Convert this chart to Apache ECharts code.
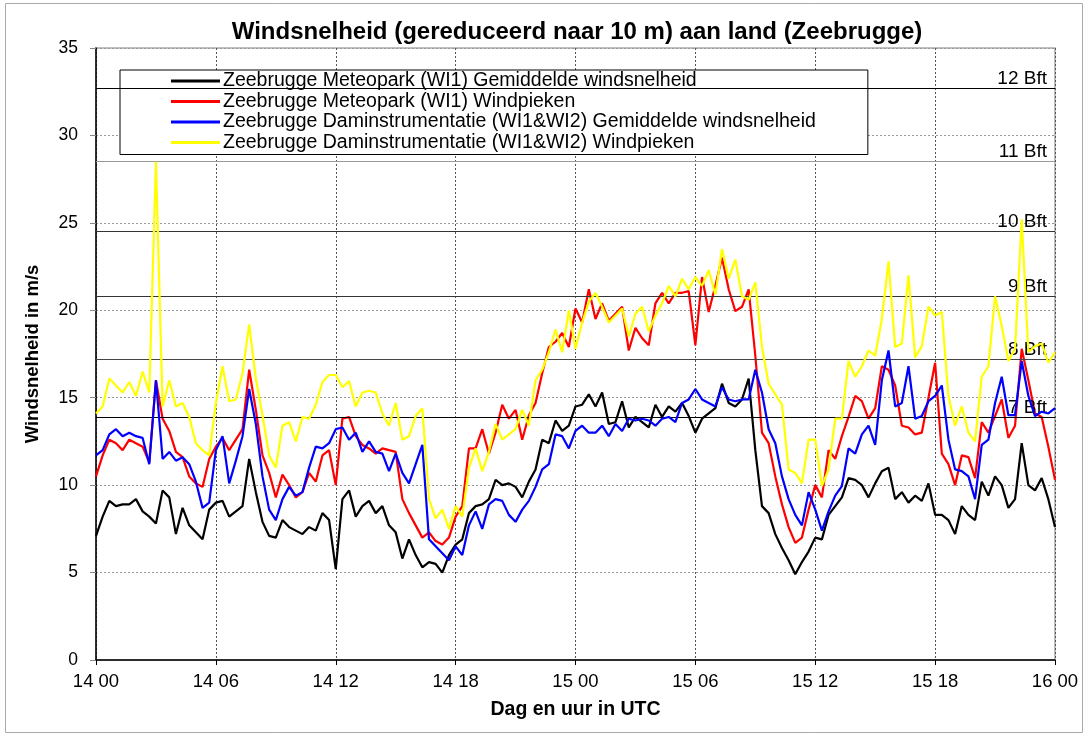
<!DOCTYPE html>
<html>
<head>
<meta charset="utf-8">
<script src="https://cdn.jsdelivr.net/npm/echarts@6/dist/echarts.min.js"></script>
<style>
  html, body { margin: 0; padding: 0; background: #fff; }
  #chart { width: 1086px; height: 736px; }
</style>
</head>
<body>
<div id="chart"></div>
<script>
// 20-minute samples, 14 00 -> 16 00 UTC
const tickLabels = ['14 00', '14 06', '14 12', '14 18', '15 00', '15 06', '15 12', '15 18', '16 00']

const meteoMean = [
  7.1, 8.2, 9.1, 8.8, 8.9, 8.9, 9.2, 8.5, 8.2, 7.8, 9.7, 9.3, 7.2, 8.7, 7.7, 7.3, 6.9, 8.6, 9.0, 9.1, 8.2, 8.5, 8.8, 11.5, 9.6, 7.9, 7.1, 7.0, 8.0, 7.6, 7.4, 7.2, 7.6, 7.4, 8.4, 8.0, 5.2,
  9.2, 9.7, 8.2, 8.8, 9.1, 8.4, 8.8, 7.7, 7.3, 5.8, 6.9, 6.0, 5.3, 5.6, 5.5, 5.0, 6.0, 6.6, 6.9, 8.4, 8.8, 8.9, 9.2, 10.3, 10.0, 10.1, 9.9, 9.3, 10.2, 10.9, 12.6, 12.4, 13.7, 13.1, 13.4, 14.5,
  14.6, 15.2, 14.5, 15.3, 13.5, 13.6, 14.8, 13.3, 13.9, 13.6, 13.3, 14.6, 13.9, 14.5, 14.2, 14.7, 13.95, 13.0, 13.8, 14.1, 14.4, 15.8, 14.7, 14.5, 14.9, 16.1, 12.0, 8.8, 8.4, 7.2, 6.4, 5.7, 4.9, 5.6, 6.2, 7.0,
  6.9, 8.3, 8.8, 9.3, 10.4, 10.3, 10.0, 9.3, 10.1, 10.8, 11.0, 9.2, 9.6, 9.0, 9.4, 9.1, 10.1, 8.3, 8.3, 8.0, 7.2, 8.8, 8.3, 8.0, 10.2, 9.4, 10.5, 10.0, 8.7, 9.2, 12.4, 10.0, 9.7, 10.4, 9.2, 7.6
]

const meteoGust = [
  10.5, 11.7, 12.6, 12.4, 12.0, 12.6, 12.4, 12.2, 11.3, 16.0, 13.8, 13.1, 11.9, 11.6, 10.5, 10.1, 9.9, 11.5, 12.2, 12.7, 12.0, 12.6, 13.2, 16.6, 14.3, 11.7, 10.7, 9.3, 10.6, 10.0, 9.3, 9.6, 10.7, 10.2, 11.7, 12.0, 10.0,
  13.8, 13.9, 12.8, 12.3, 12.1, 11.8, 12.1, 12.0, 11.9, 9.2, 8.4, 7.7, 7.0, 7.3, 6.8, 6.6, 7.0, 8.2, 8.8, 12.1, 12.1, 13.2, 11.8, 13.0, 14.6, 13.8, 14.3, 12.6, 14.0, 14.7, 16.4, 17.9, 18.2, 18.7, 17.9, 20.1,
  19.3, 21.2, 19.5, 20.4, 19.4, 19.8, 20.2, 17.7, 19.0, 18.4, 18.0, 20.4, 21.0, 20.4, 21.0, 21.0, 21.1, 18.0, 21.9, 19.9, 21.4, 23.0, 21.2, 19.95, 20.2, 21.2, 17.4, 13.0, 12.4, 10.5, 8.9, 7.6, 6.7, 7.0, 8.6, 10.0,
  9.3, 12.0, 11.5, 12.8, 13.9, 15.1, 14.8, 13.8, 14.4, 16.8, 16.6, 15.7, 13.4, 13.3, 12.9, 13.0, 15.0, 17.0, 11.8, 11.2, 10.0, 11.7, 11.6, 10.4, 13.6, 13.0, 13.95, 14.9, 12.7, 13.4, 17.8, 16.0, 14.1, 13.9, 12.2, 10.3
]

const damMean = [
  11.7, 12.0, 12.9, 13.2, 12.8, 13.0, 12.8, 12.7, 11.2, 16.0, 11.5, 11.9, 11.4, 11.6, 11.2, 10.2, 8.7, 9.0, 12.0, 12.8, 10.1, 11.4, 12.8, 15.5, 13.5, 10.5, 8.6, 8.0, 9.2, 9.9, 9.4, 9.6, 11.0, 12.2, 12.1, 12.4, 13.2,
  13.3, 12.6, 13.0, 11.9, 12.5, 11.9, 11.8, 10.8, 11.8, 10.7, 10.1, 11.2, 12.3, 6.9, 6.5, 6.1, 5.7, 6.5, 6.0, 7.7, 8.5, 7.5, 8.9, 9.2, 9.1, 8.3, 7.9, 8.6, 9.1, 9.9, 10.9, 11.2, 12.9, 12.8, 12.1, 13.1,
  13.4, 13.0, 13.0, 13.4, 12.8, 13.5, 13.1, 13.8, 13.7, 13.8, 13.7, 13.4, 13.8, 13.9, 13.6, 14.7, 14.9, 15.5, 14.9, 14.7, 14.5, 15.6, 14.9, 14.8, 14.9, 14.9, 16.6, 15.3, 13.2, 12.4, 10.5, 9.2, 8.3, 7.7, 9.6, 8.6,
  7.4, 8.5, 9.4, 9.95, 12.1, 11.8, 12.9, 13.4, 12.3, 16.0, 17.7, 14.5, 14.7, 16.8, 13.8, 13.95, 14.8, 15.1, 15.7, 12.6, 10.9, 10.8, 10.5, 9.2, 12.3, 12.6, 14.7, 16.2, 14.0, 14.0, 17.1, 15.1, 13.95, 14.2, 14.1, 14.4
]

const damGust = [
  14.1, 14.5, 16.1, 15.7, 15.3, 15.9, 15.1, 16.5, 15.3, 28.5, 14.5, 16.0, 14.5, 14.7, 13.9, 12.4, 12.0, 11.7, 14.7, 16.8, 14.8, 14.9, 16.4, 19.2, 16.1, 14.0, 11.7, 11.0, 13.4, 13.6, 12.5, 13.9, 13.8, 14.6, 15.9, 16.3, 16.3,
  15.6, 15.95, 14.5, 15.3, 15.4, 15.3, 14.1, 13.4, 14.7, 12.6, 12.8, 13.95, 14.4, 9.2, 8.1, 8.6, 7.5, 8.8, 8.2, 11.0, 12.1, 10.8, 11.9, 13.5, 12.6, 12.9, 13.2, 14.3, 13.4, 16.0, 16.6, 17.6, 18.9, 17.6, 20.0, 17.8,
  19.3, 20.5, 21.0, 20.2, 19.3, 19.7, 20.1, 18.5, 19.8, 20.2, 18.8, 19.7, 20.4, 21.4, 20.8, 21.8, 21.2, 21.9, 21.4, 22.3, 20.9, 23.5, 21.8, 22.9, 20.8, 20.6, 21.6, 17.9, 15.8, 15.2, 14.6, 10.9, 10.7, 10.1, 12.6, 12.6,
  9.95, 10.9, 13.8, 13.8, 17.1, 16.2, 16.8, 17.7, 17.4, 19.5, 22.8, 17.9, 18.1, 22.0, 17.3, 17.95, 20.2, 19.7, 19.9, 15.1, 13.4, 14.5, 13.0, 12.5, 16.2, 16.8, 20.8, 19.1, 17.1, 17.8, 25.2, 17.6, 17.95, 18.1, 17.0, 17.6
]

// Beaufort thresholds (m/s)
const bftValues = [13.9, 17.2, 20.8, 24.5, 28.5, 32.7]
const bftLabels = ['7 Bft', '8 Bft', '9 Bft', '10 Bft', '11 Bft', '12 Bft']
const bftColors = ['#000', '#444', '#333', '#333', '#999', '#000']

const seriesNames = [
  'Zeebrugge Meteopark (WI1) Gemiddelde windsnelheid',
  'Zeebrugge Meteopark (WI1) Windpieken',
  'Zeebrugge Daminstrumentatie (WI1&WI2) Gemiddelde windsnelheid',
  'Zeebrugge Daminstrumentatie (WI1&WI2) Windpieken',
]
const seriesColors = ['#000000', '#ff0000', '#0000ff', '#ffff00']
const seriesValues = [meteoMean, meteoGust, damMean, damGust]

const hours = meteoMean.map((_, i) => i / 3)
const font = 'Liberation Sans, Arial, sans-serif'

const chart = echarts.init(document.getElementById('chart'), null, { renderer: 'canvas' })

const lineSeries = seriesValues.map((vals, k) => ({
  name: seriesNames[k],
  type: 'line',
  symbol: 'none',
  smooth: false,
  lineStyle: { color: seriesColors[k], width: 2.2 },
  itemStyle: { color: seriesColors[k] },
  data: vals.map((v, i) => [hours[i], v]),
  z: 3 + k,
}))

// the Beaufort lines ride on an empty series
lineSeries.unshift({
  name: 'bft',
  type: 'line',
  data: [],
  z: 2,
  markLine: {
    silent: true,
    symbol: 'none',
    animation: false,
    label: {
      position: 'insideEndTop',
      distance: [8, 0],
      color: '#000',
      fontSize: 19,
      fontFamily: font,
    },
    data: bftValues.map((v, i) => ({
      yAxis: v,
      label: { formatter: bftLabels[i] },
      lineStyle: { color: bftColors[i], width: 1.2, type: 'solid' },
    })),
  },
})

chart.setOption({
  animation: false,
  backgroundColor: '#fff',
  textStyle: { fontFamily: font },
  title: {
    text: 'Windsnelheid (gereduceerd naar 10 m) aan land (Zeebrugge)',
    left: 572,
    textAlign: 'center',
    top: 15,
    textStyle: { fontSize: 24, fontWeight: 'bold', color: '#000', fontFamily: font },
  },
  graphic: [
    {
      type: 'rect',
      shape: { x: 5.5, y: 3.5, width: 1077, height: 729 },
      style: { fill: 'none', stroke: '#aaa', lineWidth: 1 },
      silent: true,
    },
  ],
  legend: {
    data: seriesNames,
    orient: 'vertical',
    left: 120,
    top: 70,
    padding: [1, 52, 2, 51],
    itemGap: 0.5,
    icon: 'rect',
    itemWidth: 49,
    itemHeight: 3,
    backgroundColor: '#fff',
    borderColor: '#000',
    borderWidth: 1,
    borderRadius: 0,
    textStyle: { fontSize: 19.5, color: '#000', lineHeight: 20, padding: [0, 0, 0, -2], fontFamily: font },
  },
  grid: {
    left: 96,
    right: 31,
    top: 48,
    bottom: 76,
    show: true,
    borderColor: '#aaa',
    borderWidth: 1.5,
  },
  xAxis: {
    type: 'value',
    min: 0,
    max: 48,
    interval: 6,
    name: 'Dag en uur in UTC',
    nameLocation: 'middle',
    nameGap: 40,
    nameTextStyle: { fontSize: 19.5, fontWeight: 'bold', color: '#000', fontFamily: font },
    axisLine: { show: true, onZero: false, lineStyle: { color: '#000', width: 1.5 } },
    axisTick: { show: true, inside: false, length: 5, lineStyle: { color: '#000' } },
    axisLabel: {
      fontSize: 18.5,
      color: '#000',
      margin: 12,
      formatter: (v) => tickLabels[Math.round(v / 6)] ?? '',
    },
    splitLine: { show: true, lineStyle: { color: '#555', type: [2, 2], width: 1 } },
  },
  yAxis: {
    type: 'value',
    min: 0,
    max: 35,
    interval: 5,
    name: 'Windsnelheid in m/s',
    nameLocation: 'middle',
    nameGap: 54,
    nameRotate: 90,
    nameTextStyle: { fontSize: 18.5, fontWeight: 'bold', color: '#000', fontFamily: font },
    axisLine: { show: true, lineStyle: { color: '#000', width: 1.5 } },
    axisTick: { show: true, inside: false, length: 6, lineStyle: { color: '#888' } },
    axisLabel: { fontSize: 17.5, color: '#000', margin: 18 },
    splitLine: { show: true, lineStyle: { color: '#999', type: [2, 2], width: 1 } },
  },
  series: lineSeries,
})
</script>
</body>
</html>
